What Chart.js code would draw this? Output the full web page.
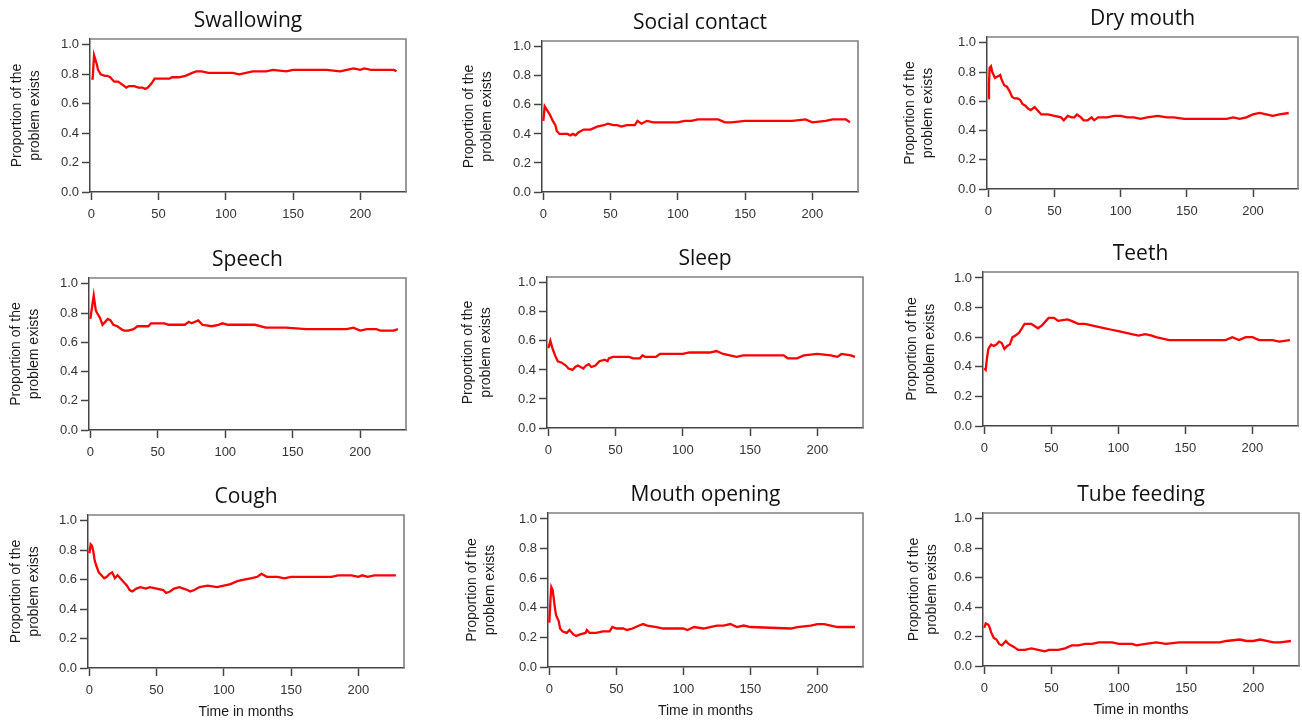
<!DOCTYPE html>
<html>
<head>
<meta charset="utf-8">
<script src="https://cdn.jsdelivr.net/npm/chart.js@4.4.1/dist/chart.umd.min.js"></script>
<style>
html,body{margin:0;padding:0;background:#fff;width:1302px;height:724px;overflow:hidden;position:relative}
canvas{position:absolute}
</style>
</head>
<body>
<script>
// ---------- data ----------
const panelTitles = ['Swallowing','Social contact','Dry mouth','Speech','Sleep','Teeth','Cough','Mouth opening','Tube feeding'];
const xTickValues = [0,50,100,150,200];
const yTickValues = [0,0.2,0.4,0.6,0.8,1.0];
const yAxisTitle = ['Proportion of the','problem exists'];
const xAxisTitle = 'Time in months';

const swallowingMonths = [0,1,2,3,4,5,7,10,12,14,17,20,23,26,28,30,32,35,38,40,42,45,47,50,55,58,60,65,70,75,78,82,87,95,100,105,110,115,120,125,130,135,145,150,160,175,185,190,195,200,203,208,215,225,227];
const swallowingProp   = [0.77,0.77,0.93,0.90,0.87,0.83,0.80,0.79,0.79,0.78,0.75,0.75,0.73,0.71,0.72,0.72,0.72,0.71,0.71,0.70,0.71,0.74,0.77,0.77,0.77,0.77,0.78,0.78,0.79,0.81,0.82,0.82,0.81,0.81,0.81,0.81,0.80,0.81,0.82,0.82,0.82,0.83,0.82,0.83,0.83,0.83,0.82,0.83,0.84,0.83,0.84,0.83,0.83,0.83,0.82];

const socialMonths = [0,1,3,5,7,9,10,12,15,18,20,22,24,26,30,35,40,45,48,52,55,58,62,68,70,73,77,82,90,95,100,105,110,115,120,125,130,135,140,150,170,185,195,200,210,215,225,228];
const socialProp   = [0.49,0.59,0.56,0.53,0.49,0.46,0.42,0.40,0.40,0.40,0.39,0.40,0.39,0.41,0.43,0.43,0.45,0.46,0.47,0.46,0.46,0.45,0.46,0.46,0.49,0.47,0.49,0.48,0.48,0.48,0.48,0.49,0.49,0.50,0.50,0.50,0.50,0.48,0.48,0.49,0.49,0.49,0.50,0.48,0.49,0.50,0.50,0.48];

const dryMouthMonths = [0,0.5,1,2,3,5,7,9,10,12,14,16,18,20,22,24,26,28,30,32,35,38,40,45,50,55,57,60,63,65,67,70,72,75,78,80,83,90,95,100,105,110,115,120,128,135,140,148,160,180,185,190,195,200,205,210,215,220,227];
const dryMouthProp   = [0.62,0.72,0.83,0.84,0.80,0.76,0.77,0.78,0.75,0.71,0.70,0.67,0.63,0.62,0.62,0.61,0.58,0.57,0.55,0.54,0.56,0.53,0.51,0.51,0.50,0.49,0.47,0.50,0.49,0.49,0.51,0.49,0.47,0.47,0.49,0.47,0.49,0.49,0.50,0.50,0.49,0.49,0.48,0.49,0.50,0.49,0.49,0.48,0.48,0.48,0.49,0.48,0.49,0.51,0.52,0.51,0.50,0.51,0.52];

const speechMonths = [0,2.5,4,5,7,9,11,13,15,17,20,23,25,28,32,35,40,43,45,50,55,58,60,70,73,75,80,83,90,95,98,102,110,122,130,135,145,160,180,190,195,200,205,212,215,225,228];
const speechProp   = [0.76,0.92,0.82,0.80,0.77,0.72,0.74,0.76,0.75,0.72,0.71,0.69,0.68,0.68,0.69,0.71,0.71,0.71,0.73,0.73,0.73,0.72,0.72,0.72,0.74,0.73,0.75,0.72,0.71,0.72,0.73,0.72,0.72,0.72,0.70,0.70,0.70,0.69,0.69,0.69,0.70,0.68,0.69,0.69,0.68,0.68,0.69];

const sleepMonths = [0,1.5,3,5,7,10,13,15,18,20,22,24,26,28,30,32,35,38,42,44,45,48,50,55,60,63,68,70,72,80,83,90,100,105,110,115,120,125,130,135,140,145,175,178,185,190,200,210,215,218,225,228];
const sleepProp   = [0.55,0.60,0.55,0.50,0.46,0.45,0.43,0.41,0.40,0.42,0.43,0.42,0.41,0.43,0.44,0.42,0.43,0.46,0.47,0.46,0.48,0.49,0.49,0.49,0.49,0.48,0.48,0.50,0.49,0.49,0.51,0.51,0.51,0.52,0.52,0.52,0.52,0.53,0.51,0.50,0.49,0.50,0.50,0.48,0.48,0.50,0.51,0.50,0.49,0.51,0.50,0.49];

const teethMonths = [0,1,2,3,5,7,9,11,13,15,17,19,21,23,26,28,30,35,40,43,46,48,52,55,62,65,70,75,80,85,90,95,100,105,110,115,120,125,128,133,138,140,150,175,180,185,190,195,200,205,210,215,220,228];
const teethProp   = [0.39,0.38,0.46,0.52,0.55,0.54,0.55,0.57,0.56,0.52,0.54,0.55,0.60,0.61,0.63,0.66,0.69,0.69,0.66,0.68,0.71,0.73,0.73,0.71,0.72,0.71,0.69,0.69,0.68,0.67,0.66,0.65,0.64,0.63,0.62,0.61,0.62,0.61,0.60,0.59,0.58,0.58,0.58,0.58,0.58,0.60,0.58,0.60,0.60,0.58,0.58,0.58,0.57,0.58];

const coughMonths = [0,1,2,3,4,5,7,9,11,13,15,17,19,21,23,26,28,30,32,35,38,42,45,50,55,57,60,63,67,70,73,75,78,82,88,95,100,105,110,115,120,125,128,132,140,145,150,180,185,190,195,200,203,207,212,218,228];
const coughProp   = [0.78,0.84,0.83,0.79,0.73,0.70,0.65,0.63,0.61,0.62,0.64,0.65,0.61,0.63,0.61,0.58,0.56,0.53,0.52,0.54,0.55,0.54,0.55,0.54,0.53,0.51,0.52,0.54,0.55,0.54,0.53,0.52,0.53,0.55,0.56,0.55,0.56,0.57,0.59,0.60,0.61,0.62,0.64,0.62,0.62,0.61,0.62,0.62,0.63,0.63,0.63,0.62,0.63,0.62,0.63,0.63,0.63];

const mouthOpeningMonths = [0,1,1.5,2.5,4,5,7,8,10,13,15,18,20,23,27,28,30,35,40,45,47,50,55,58,62,67,70,73,80,85,95,100,103,108,115,120,125,130,135,140,145,150,180,185,195,200,205,210,215,228];
const mouthOpeningProp   = [0.30,0.48,0.54,0.52,0.41,0.35,0.31,0.26,0.24,0.23,0.25,0.22,0.21,0.22,0.23,0.25,0.23,0.23,0.24,0.24,0.27,0.26,0.26,0.25,0.26,0.28,0.29,0.28,0.27,0.26,0.26,0.26,0.25,0.27,0.26,0.27,0.28,0.28,0.29,0.27,0.28,0.27,0.26,0.27,0.28,0.29,0.29,0.28,0.27,0.27];

const tubeFeedingMonths = [0,1,3,4,5,7,9,11,13,15,16,18,20,22,25,30,35,40,45,48,55,60,65,70,75,80,85,95,100,105,110,113,120,128,135,145,150,175,180,190,195,200,205,210,215,220,228];
const tubeFeedingProp   = [0.26,0.29,0.28,0.26,0.23,0.19,0.18,0.15,0.14,0.16,0.17,0.15,0.14,0.13,0.11,0.11,0.12,0.11,0.10,0.11,0.11,0.12,0.14,0.14,0.15,0.15,0.16,0.16,0.15,0.15,0.15,0.14,0.15,0.16,0.15,0.16,0.16,0.16,0.17,0.18,0.17,0.17,0.18,0.17,0.16,0.16,0.17];

const seriesMonths = [swallowingMonths, socialMonths, dryMouthMonths, speechMonths, sleepMonths, teethMonths, coughMonths, mouthOpeningMonths, tubeFeedingMonths];
const seriesProp   = [swallowingProp, socialProp, dryMouthProp, speechProp, sleepProp, teethProp, coughProp, mouthOpeningProp, tubeFeedingProp];

// ---------- layout (plot-area boxes in page pixels: left, top, right, bottom, y-title line-1 centre x) ----------
const plotBoxes = [
  [90,39,406,192,17],  [542,41,858,192,469], [987,37,1298,189,910],
  [89,278,406,430,16], [547,277,863,428,468],[983,272,1298,426,912],
  [88,515,404,668,16], [548,513,863,667,472],[983,513,1299,666,914]
];

const framePlugin = {
  id: 'frame',
  afterDatasetsDraw(chart) {
    const {ctx, chartArea: {left, top, right, bottom}} = chart;
    ctx.save();
    ctx.strokeStyle = '#808080';
    ctx.lineWidth = 1.6;
    ctx.beginPath();
    ctx.moveTo(left, top);
    ctx.lineTo(right, top);
    ctx.lineTo(right, bottom);
    ctx.stroke();
    ctx.restore();
  }
};

const tickFont = {family: '"Liberation Sans", Arial, sans-serif', size: 13};
const axisTitleFont = {family: '"Liberation Sans", Arial, sans-serif', size: 14, lineHeight: 1.3};

panelTitles.forEach((title, i) => {
  const [cl, ct, cr, cb, l1] = plotBoxes[i];
  const bottomRow = i >= 6;
  const left = Math.round(l1 - 9);
  const top = ct - 31;
  const hx = bottomRow ? 53 : 32;
  const W = cr + 2 - left;
  const H = cb + hx - top;
  const yw = cl - left;
  const canvas = document.createElement('canvas');
  canvas.width = W; canvas.height = H;
  canvas.style.left = left + 'px';
  canvas.style.top = top + 'px';
  canvas.style.width = W + 'px';
  canvas.style.height = H + 'px';
  document.body.appendChild(canvas);
  const xs = seriesMonths[i], ys = seriesProp[i];
  new Chart(canvas, {
    type: 'line',
    data: {
      datasets: [{
        data: xs.map((x, k) => ({x: x, y: ys[k]})),
        borderColor: '#ff0000',
        borderWidth: 2.3,
        pointRadius: 0,
        tension: 0,
        fill: false
      }]
    },
    options: {
      responsive: false,
      animation: false,
      devicePixelRatio: 1,
      layout: {padding: {left: 0, right: 2, top: 0, bottom: 0}},
      plugins: {
        legend: {display: false},
        tooltip: {enabled: false},
        title: {
          display: true,
          text: title,
          fullSize: false,
          color: '#111',
          font: {family: '"Open Sans", sans-serif', size: 21, weight: 'normal', lineHeight: 1.2},
          padding: {top: 0, bottom: 5.8}
        }
      },
      scales: {
        x: {
          type: 'linear',
          min: -1,
          max: 234,
          afterBuildTicks: s => { s.ticks = xTickValues.map(v => ({value: v})); },
          afterFit: s => { s.height = hx; s.paddingLeft = 0; s.paddingRight = 0; },
          ticks: {font: tickFont, color: '#333', padding: 7, maxRotation: 0, autoSkip: false},
          grid: {drawOnChartArea: false, drawTicks: true, tickLength: 8, tickColor: '#444', tickWidth: 1.5},
          border: {display: true, color: '#444', width: 1.5},
          title: {display: bottomRow, text: xAxisTitle, color: '#1a1a1a', font: axisTitleFont, padding: {top: 0, bottom: 0}}
        },
        y: {
          type: 'linear',
          min: 0,
          max: 1.04,
          afterBuildTicks: s => { s.ticks = yTickValues.map(v => ({value: v})); },
          afterFit: s => { s.width = yw; s.paddingTop = 0; s.paddingBottom = 0; },
          ticks: {font: tickFont, color: '#333', padding: 3, callback: v => Number(v).toFixed(1), autoSkip: false},
          grid: {drawOnChartArea: false, drawTicks: true, tickLength: 8, tickColor: '#444', tickWidth: 1.5},
          border: {display: true, color: '#444', width: 1.5},
          title: {display: true, text: yAxisTitle, color: '#1a1a1a', font: axisTitleFont, padding: {top: 0, bottom: 0}}
        }
      }
    },
    plugins: [framePlugin]
  });
});
</script>
</body>
</html>
